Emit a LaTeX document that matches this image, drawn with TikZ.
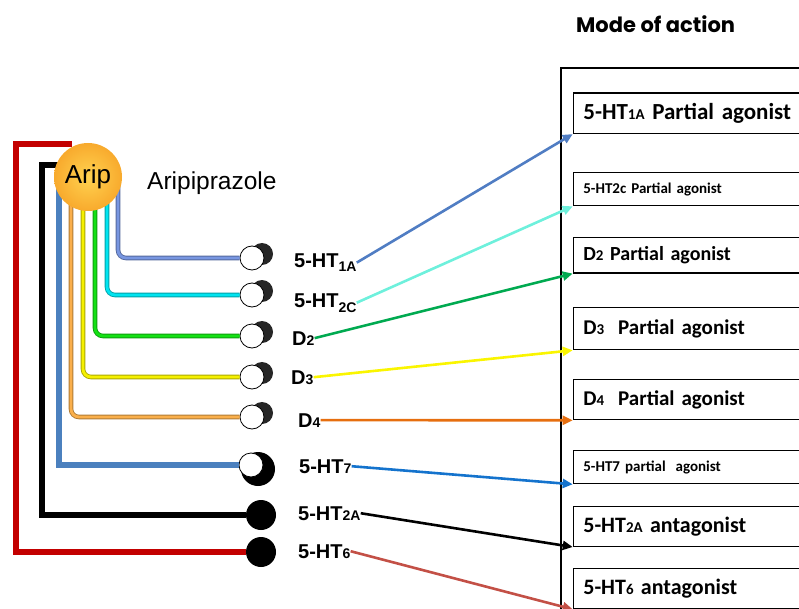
\documentclass[tikz,border=0pt]{standalone}
\usepackage{fontspec}
\setmainfont{Liberation Sans}
\newfontfamily\calfont{Carlito}
\newfontfamily\popfont{Poppins}
\usetikzlibrary{arrows.meta, positioning, calc}

\definecolor{periw}{RGB}{120,150,225}
\definecolor{cyanl}{RGB}{0,228,240}
\definecolor{greenl}{RGB}{20,225,20}
\definecolor{yell}{RGB}{245,240,0}
\definecolor{orangel}{RGB}{250,175,75}
\definecolor{steel}{RGB}{75,128,190}
\definecolor{redl}{RGB}{195,0,0}
\definecolor{arrA}{RGB}{80,125,195}
\definecolor{arrB}{RGB}{110,240,220}
\definecolor{arrC}{RGB}{0,170,80}
\definecolor{arrD}{RGB}{250,245,0}
\definecolor{arrE}{RGB}{230,110,15}
\definecolor{arrF}{RGB}{20,115,205}
\definecolor{arrH}{RGB}{195,80,70}
\definecolor{aripin}{RGB}{255,210,80}
\definecolor{aripout}{RGB}{248,170,45}

\newcommand{\lowsub}[1]{\raisebox{-5pt}{\fontsize{14}{14}\selectfont #1}}
\newcommand{\smsub}[1]{{\fontsize{14}{14}\selectfont #1}}
\newcommand{\boxsub}[1]{{\fontsize{15}{15}\selectfont #1}}

\tikzset{
  rlab/.style={anchor=base west, inner sep=0pt, font=\bfseries\fontsize{20}{20}\selectfont},
  wcirc/.style={circle, draw=black, line width=0.8pt, fill=white, minimum size=24, inner sep=0pt},
  bcirc/.style={circle, fill=black, minimum size=30, inner sep=0pt},
  lig/.style={line width=0.9pt, double distance=2.8pt, rounded corners=8},
  actbox/.style={draw=black, line width=1.3pt, anchor=north west, inner xsep=10pt, inner ysep=0pt,
    text width=250, align=left, font=\calfont\bfseries},
  arr/.style={line width=2.6pt, -{Triangle[length=10pt,width=9pt]}},
}

\begin{document}
\begin{tikzpicture}[x=1pt, y=-1pt]
  \useasboundingbox (0,0) rectangle (799,609);
  \clip (0,0) rectangle (799,609);

  \node[anchor=base west, inner sep=0pt, font=\popfont\bfseries\fontsize{21}{21}\selectfont] (title) at (576,33) {Mode of action};
  \draw[line width=1.8pt] (561,620) -- (561,68) -- (810,68);

  \coordinate (aripc) at (88,177);

  \foreach \n/\y in {r1a/258, r2c/295, rd2/336, rd3/377, rd4/417} {
    \fill[black!85] (262,\y-4) circle (11);
    \node[wcirc] (\n) at (252,\y) {};
  }
  \fill[black] (258,469) circle (17);
  \node[wcirc] (r7) at (251,465) {};
  \node[bcirc] (r2a) at (261,515) {};
  \node[bcirc] (r6) at (261,552) {};

  \foreach \n/\x/\c in {r1a/118/periw, r2c/107/cyanl, rd2/95/greenl, rd3/83/yell, rd4/71/orangel} {
    \draw[lig, draw=\c!70!black, double=\c] (aripc -| \x,0) |- (\n);
  }
  \draw[line width=5.5pt, steel] (aripc -| 59,0) |- (r7);
  \draw[line width=5.5pt, black] (62,165) -| (r2a -| 42,0) -- (r2a);
  \draw[line width=5.5pt, redl] (72,144) -| (r6 -| 16,0) -- (r6);

  \node[circle, minimum size=68, inner sep=0pt, inner color=aripin, outer color=aripout,
    font=\fontsize{26}{26}\selectfont] (arip) at (aripc) {Arip};
  \node[anchor=base west, inner sep=0pt, font=\fontsize{24.5}{24.5}\selectfont] (aripname) at (147,190) {Aripiprazole};

  \node[rlab] (l1a) at (294,267) {5-HT\lowsub{1A}};
  \node[rlab] (l2c) at (294,307) {5-HT\lowsub{2C}};
  \node[rlab] (ld2) at (292,345) {D\smsub{2}};
  \node[rlab] (ld3) at (291,384) {D\smsub{3}};
  \node[rlab] (ld4) at (298,427) {D\smsub{4}};
  \node[rlab] (l7) at (299,473) {5-HT\smsub{7}};
  \node[rlab] (l2a) at (298,520) {5-HT\smsub{2A}};
  \node[rlab] (l6) at (298,558) {5-HT\smsub{6}};

  \node[actbox, minimum height=40.5, font=\calfont\bfseries\fontsize{23}{23}\selectfont] (b1a) at (572.7,92.3) {5-HT\boxsub{1A} Partial agonist};
  \node[actbox, minimum height=33, font=\calfont\bfseries\fontsize{15}{15}\selectfont] (b2c) at (572.7,172) {5-HT2c Partial agonist};
  \node[actbox, minimum height=35.6, font=\calfont\bfseries\fontsize{20}{20}\selectfont] (bd2) at (572.7,236.7) {D\boxsub{2} Partial agonist};
  \node[actbox, minimum height=42.3, font=\calfont\bfseries\fontsize{21}{21}\selectfont] (bd3) at (572.7,306.7) {D\boxsub{3}\ \ Partial agonist};
  \node[actbox, minimum height=40, font=\calfont\bfseries\fontsize{21}{21}\selectfont] (bd4) at (572.7,379) {D\boxsub{4}\ \ Partial agonist};
  \node[actbox, minimum height=33, font=\calfont\bfseries\fontsize{15}{15}\selectfont] (b7) at (572.7,450) {5-HT7 partial\ \ agonist};
  \node[actbox, minimum height=40, font=\calfont\bfseries\fontsize{22}{22}\selectfont] (b2a) at (572.7,505.7) {5-HT\boxsub{2A} antagonist};
  \node[actbox, minimum height=40, font=\calfont\bfseries\fontsize{22}{22}\selectfont] (b6) at (572.7,568) {5-HT\boxsub{6} antagonist};

  \draw[arr, arrA] (l1a.east) -- (b1a.south west);
  \draw[arr, arrB] (l2c.east) -- (b2c.south west);
  \draw[arr, arrC] (ld2.east) -- (bd2.south west);
  \draw[arr, arrD] (ld3.east) -- (bd3.south west);
  \draw[arr, arrE] (ld4.east) -- (bd4.south west);
  \draw[arr, arrF] (l7.east) -- (b7.south west);
  \draw[arr, black] (l2a.east) -- (b2a.south west);
  \draw[arr, arrH] (l6.east) -- (b6.south west);
\end{tikzpicture}
\end{document}
